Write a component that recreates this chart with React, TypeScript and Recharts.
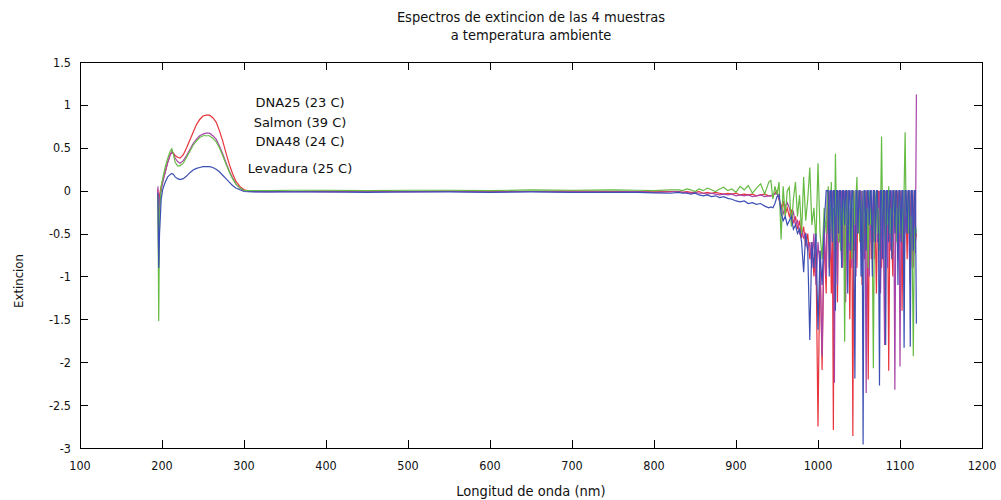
import React from 'react';
import { LineChart, Line, XAxis, YAxis, ReferenceArea } from 'recharts';

// wavelength grid (nm)
const wavelengths = [
  195, 196, 197, 199, 201, 204, 207, 210, 212, 214, 216, 219, 222, 226, 230, 234, 238, 242, 246, 250, 254, 258, 262, 266, 270, 274, 278, 282, 286, 290, 295, 300, 310,
  330, 360, 400, 450, 500, 550, 600, 650, 700, 750, 780, 800, 820,
  830, 835, 840, 845, 850, 855, 860, 865, 870, 875, 880, 885, 890, 895, 900, 905, 910, 915, 920, 925, 930, 935, 940,
  942.5, 945, 947.5, 950, 952.5, 955, 957.5, 960, 962.5, 965, 967.5, 970, 972.5, 975, 977.5, 980, 982.5, 985, 987.5, 990, 992.5, 995, 997.5, 1000, 1002.5, 1005, 1007.5, 1010,
  1011.25, 1012.5, 1013.75, 1015, 1016.25, 1017.5, 1018.75, 1020,
  1021.25, 1022.5, 1023.75, 1025, 1026.25, 1027.5, 1028.75, 1030,
  1031.25, 1032.5, 1033.75, 1035, 1036.25, 1037.5, 1038.75, 1040,
  1041.25, 1042.5, 1043.75, 1045, 1046.25, 1047.5, 1048.75, 1050,
  1051.25, 1052.5, 1053.75, 1055, 1056.25, 1057.5, 1058.75, 1060,
  1061.25, 1062.5, 1063.75, 1065, 1066.25, 1067.5, 1068.75, 1070,
  1071.25, 1072.5, 1073.75, 1075, 1076.25, 1077.5, 1078.75, 1080,
  1081.25, 1082.5, 1083.75, 1085, 1086.25, 1087.5, 1088.75, 1090,
  1091.25, 1092.5, 1093.75, 1095, 1096.25, 1097.5, 1098.75, 1100,
  1101.25, 1102.5, 1103.75, 1105, 1106.25, 1107.5, 1108.75, 1110,
  1111.25, 1112.5, 1113.75, 1115, 1116.25, 1117.5, 1118.75, 1120,
];

// DNA25 (23 C)
const dna25 = [
  0.02, -0.3, -0.05, 0.05, 0.12, 0.22, 0.33, 0.42, 0.45, 0.44, 0.41, 0.39, 0.38, 0.42, 0.5, 0.59, 0.68, 0.77, 0.83, 0.87, 0.88, 0.88, 0.85, 0.8, 0.7, 0.58, 0.44, 0.31, 0.2, 0.11, 0.05, 0.01, -0.01,
  -0.01, -0.01, -0.005, -0.01, -0.01, -0.005, -0.01, -0.01, -0.005, -0.01, -0.01, -0.015, -0.01,
  -0.01, -0.02, -0.01, -0.02, -0.02, -0.01, -0.03, -0.02, -0.03, -0.02, -0.03, -0.04, -0.03, -0.04, -0.03, -0.05, -0.04, -0.05, -0.04, -0.06, -0.05, -0.04, -0.06,
  -0.06, -0.05, -0.03, 0.0, -0.1, -0.2, -0.12, -0.28, -0.2, -0.3, -0.22, -0.38, -0.3, -0.45, -0.35, -0.55, -0.42, -0.65, -0.5, -0.8, -0.6, -1.0, -0.7, -2.75, -0.7, -2.09, -0.5, -1.2,
  -0.3, 0, -0.9, -0.5, -1.2, -0.4, -2.79, 0,
  -0.5, -0.2, -1.3, 0, -0.6, -0.3, -0.8, -0.2,
  0, -1.0, -0.4, -0.6, 0, -0.3, -1.5, -0.5,
  -0.2, -2.86, 0, -0.7, -0.4, -0.9, 0, -0.35,
  -0.6, 0, -1.1, -0.5, -0.3, -0.8, 0, -0.4,
  -2.2, -0.3, 0, -0.8, -0.4, -0.6, 0, -0.5,
  -1.2, -0.3, 0, -0.6, -0.2, -0.9, -0.5, 0,
  -0.4, -0.7, 0, -0.3, -2.1, -0.5, 0, -0.6,
  -1.0, -0.3, 0, -0.5, -0.2, 0, -0.7, -0.3,
  0, -1.4, -0.4, -0.6, 0, -0.3, -0.8, 0,
  -0.5, -0.3, 0, -0.9, -0.4, 0, -0.6, -0.5,
];

// Salmon (39 C)
const salmon = [
  0.05, -0.85, -0.1, 0.0, 0.1, 0.22, 0.33, 0.42, 0.45, 0.43, 0.38, 0.34, 0.32, 0.35, 0.41, 0.48, 0.55, 0.6, 0.64, 0.66, 0.67, 0.67, 0.64, 0.6, 0.52, 0.43, 0.33, 0.23, 0.15, 0.08, 0.03, 0.0, -0.01,
  -0.015, -0.01, -0.015, -0.01, -0.015, -0.01, -0.015, -0.01, -0.015, -0.015, -0.01, -0.02, -0.015,
  -0.01, -0.02, -0.02, -0.03, -0.02, -0.03, -0.03, -0.04, -0.03, -0.04, -0.05, -0.04, -0.05, -0.04, -0.06, -0.05, -0.06, -0.05, -0.07, -0.06, -0.05, -0.07, -0.06,
  -0.06, -0.05, -0.04, -0.03, -0.1, -0.2, -0.27, -0.18, -0.14, -0.2, -0.3, -0.25, -0.4, -0.35, -0.5, -0.45, -0.55, -0.5, -0.7, -0.6, -0.9, -0.5, -1.1, -0.6, -0.9, -1.93, -0.4, -1.0,
  0, -0.5, 0, -0.8, -0.3, 0, -0.6, -2.24,
  0, -0.4, -1.1, 0, -0.6, -0.3, 0, -0.9,
  -0.5, 0, -1.3, -0.5, 0, -0.4, -0.7, 0,
  -0.9, -0.4, 0, -0.6, -1.0, 0, -0.5, -0.3,
  0, -0.7, -0.4, 0, -0.8, -0.5, -2.36, 0,
  -0.5, -1.0, 0, -0.6, -0.3, 0, -0.8, -0.4,
  0, -0.6, -0.3, 0, -1.2, -0.5, 0, -0.8,
  -1.8, 0, -0.5, -0.9, 0, -0.4, -0.7, 0,
  -0.6, -0.3, -2.32, 0, -0.4, -0.8, 0, -2.05,
  -0.3, 0, -0.7, -1.1, 0, -0.5, -0.3, 0,
  -0.7, -1.1, 0, -0.5, -0.9, 0, -0.73, 1.12,
];

// DNA48 (24 C)
const dna48 = [
  -0.05, -1.52, -0.3, 0.05, 0.15, 0.28, 0.38, 0.46, 0.49, 0.42, 0.33, 0.29, 0.29, 0.32, 0.39, 0.46, 0.53, 0.58, 0.62, 0.64, 0.64, 0.64, 0.61, 0.57, 0.5, 0.41, 0.31, 0.22, 0.14, 0.08, 0.03, 0.0, 0.0,
  0.0, 0.005, 0.005, 0.0, 0.005, 0.005, 0.0, 0.01, 0.005, 0.01, 0.005, 0.0, 0.01,
  0.01, 0.0, 0.02, 0.01, -0.01, 0.02, 0.0, 0.03, 0.01, -0.01, 0.02, 0.04, 0.0, 0.02, -0.02, 0.05, 0.01, 0.06, -0.03, 0.03, 0.08, -0.04, 0.1,
  0.12, -0.1, 0.05, -0.05, 0.1, -0.57, 0.05, -0.3, 0.0, 0.04, -0.42, -0.1, 0.1, -0.3, -0.05, -0.5, 0.16, -0.35, -0.1, 0.27, -0.4, -0.2, -0.6, 0.32, -0.5, -0.8, -0.2, -0.5,
  -0.2, 0.05, -0.6, -0.3, 0.1, -0.5, -0.2, -0.7,
  0.43, -0.3, -0.1, -0.6, 0, -0.7, -0.2, -0.4,
  -0.1, -1.76, -0.3, 0, -0.5, -0.2, -0.6, -0.1,
  -0.8, -0.3, 0, -0.4, -0.1, 0.16, -0.5, -0.2,
  -0.6, -0.1, -0.4, -0.7, 0, -0.3, -0.5, -0.2,
  -0.9, 0, -0.4, -0.2, -0.6, -2.07, -0.4, -0.1,
  0, -0.5, -0.2, -0.7, -0.3, 0.63, -0.3, -0.1,
  0, -0.6, -0.2, -0.4, 0.05, -0.5, -0.2, -0.7,
  -0.3, 0, -0.4, -0.1, -0.6, -0.2, -0.5, -0.1,
  -0.5, -0.2, -0.6, 0, 0.68, -0.3, -0.1, -0.5,
  0, -0.6, -0.3, -0.8, -1.93, -0.5, -0.4, -0.5,
];

// Levadura (25 C)
const levadura = [
  -0.02, -0.9, -0.5, -0.1, 0.02, 0.1, 0.16, 0.19, 0.2, 0.19, 0.16, 0.14, 0.13, 0.14, 0.17, 0.21, 0.24, 0.26, 0.27, 0.28, 0.28, 0.28, 0.27, 0.25, 0.22, 0.18, 0.14, 0.1, 0.06, 0.03, 0.01, -0.01, -0.015,
  -0.015, -0.015, -0.015, -0.02, -0.015, -0.015, -0.02, -0.015, -0.02, -0.02, -0.02, -0.025, -0.03,
  -0.02, -0.03, -0.03, -0.04, -0.03, -0.05, -0.06, -0.05, -0.07, -0.06, -0.08, -0.07, -0.09, -0.1, -0.12, -0.13, -0.12, -0.15, -0.14, -0.16, -0.15, -0.18, -0.2,
  -0.19, -0.2, -0.15, -0.07, -0.05, -0.26, -0.35, -0.3, -0.4, -0.35, -0.3, -0.45, -0.4, -0.5, -0.45, -0.6, -0.95, -0.5, -0.7, -1.74, -0.6, -0.9, -0.5, -1.62, -0.7, -1.1, -0.4, 0,
  0, 0, -1.0, 0, 0, -0.6, 0, 0,
  -1.4, 0, 0, -0.5, 0, 0, -0.9, 0,
  0, -0.4, 0, 0, -1.2, 0, 0, -0.7,
  0, 0, -0.8, -2.19, 0, 0, -0.5, 0,
  0, -1.0, 0, -2.96, 0, 0, -0.7, 0,
  0, -0.4, 0, 0, -1.0, 0, 0, -0.6,
  0, 0, -0.5, -2.27, 0, 0, -0.8, 0,
  0, -1.8, 0, 0, -0.6, 0, 0, -0.8,
  0, 0, -0.5, 0, 0, -1.1, 0, 0,
  -0.6, 0, 0, -1.83, 0, 0, -0.5, 0,
  0, -1.82, 0, 0, -0.7, 0, 0, -1.55,
];

const xTicks = [100, 200, 300, 400, 500, 600, 700, 800, 900, 1000, 1100, 1200];
const yTicks = [-3, -2.5, -2, -1.5, -1, -0.5, 0, 0.5, 1, 1.5];

const sampleLabels = [
  { text: 'DNA25 (23 C)', y: 103 },
  { text: 'Salmon (39 C)', y: 123 },
  { text: 'DNA48 (24 C)', y: 142 },
  { text: 'Levadura (25 C)', y: 169 },
];

const data = wavelengths.map((nm, i) => ({
  nm,
  dna25: dna25[i],
  salmon: salmon[i],
  dna48: dna48[i],
  levadura: levadura[i],
}));

const PLOT_TOP = 62;
const PLOT_RIGHT = 982;
const TICK_LEN = 8;
const condensed = '"DejaVu Sans Condensed", "DejaVu Sans", sans-serif';

// gnuplot style: ticks point inwards and are mirrored on the opposite border
const XTick = (props: any) => {
  const { x, y, payload } = props;
  const px = Math.round(x) + 0.5;
  return (
    <g>
      <line x1={px} x2={px} y1={y} y2={y - TICK_LEN} stroke="#000" />
      <line x1={px} x2={px} y1={PLOT_TOP} y2={PLOT_TOP + TICK_LEN} stroke="#000" />
      <text x={x} y={y + 22} textAnchor="middle" fontFamily={condensed} fontSize={12.5} fill="#111">
        {payload.value}
      </text>
    </g>
  );
};

const YTick = (props: any) => {
  const { x, y, payload } = props;
  const py = Math.round(y) + 0.5;
  return (
    <g>
      <line x1={x} x2={x + TICK_LEN} y1={py} y2={py} stroke="#000" />
      <line x1={PLOT_RIGHT - TICK_LEN} x2={PLOT_RIGHT} y1={py} y2={py} stroke="#000" />
      <text x={x - 9} y={y + 4.5} textAnchor="end" fontFamily={condensed} fontSize={12.5} fill="#111">
        {payload.value}
      </text>
    </g>
  );
};

const App: React.FC = () => {
  return (
    <div style={{ position: 'absolute', left: 0, top: 0, width: 1001, height: 500, background: '#fff' }}>
      <LineChart width={1001} height={500} data={data} margin={{ top: 62, right: 19, bottom: 22, left: 20 }}>
        <XAxis
          dataKey="nm"
          type="number"
          domain={[100, 1200]}
          ticks={xTicks}
          interval={0}
          height={30}
          tick={<XTick />}
          tickLine={false}
          axisLine={false}
          tickSize={0}
          tickMargin={0}
        />
        <YAxis
          type="number"
          domain={[-3, 1.5]}
          ticks={yTicks}
          interval={0}
          width={60}
          tick={<YTick />}
          tickLine={false}
          axisLine={false}
          tickSize={0}
          tickMargin={0}
        />
        <ReferenceArea x1={100} x2={1200} y1={-3} y2={1.5} fill="none" fillOpacity={0} stroke="#000" strokeWidth={1} shapeRendering="crispEdges" />
        <Line type="linear" dataKey="dna25" stroke="#e8343c" strokeWidth={1.2} dot={false} isAnimationActive={false} />
        <Line type="linear" dataKey="salmon" stroke="#a844a8" strokeWidth={1.2} dot={false} isAnimationActive={false} />
        <Line type="linear" dataKey="dna48" stroke="#66bb44" strokeWidth={1.2} dot={false} isAnimationActive={false} />
        <Line type="linear" dataKey="levadura" stroke="#3c50b4" strokeWidth={1.2} dot={false} isAnimationActive={false} />
      </LineChart>

      <div style={{ position: 'absolute', left: 80, width: 902, top: 8, textAlign: 'center', fontFamily: condensed, fontSize: 14.5, lineHeight: '18px', color: '#111' }}>
        Espectros de extincion de las 4 muestras
        <br />
        a temperatura ambiente
      </div>
      <div style={{ position: 'absolute', left: 80, width: 902, top: 483, textAlign: 'center', fontFamily: condensed, fontSize: 14.5, color: '#111' }}>
        Longitud de onda (nm)
      </div>
      <div style={{ position: 'absolute', left: 18, top: 281, transform: 'translate(-50%, -50%) rotate(-90deg)', fontFamily: condensed, fontSize: 13, color: '#111', whiteSpace: 'nowrap' }}>
        Extincion
      </div>
      {sampleLabels.map((l) => (
        <div key={l.text} style={{ position: 'absolute', left: 200, width: 200, top: l.y - 9, textAlign: 'center', fontFamily: '"DejaVu Sans", sans-serif', fontSize: 13, lineHeight: '18px', color: '#111' }}>
          {l.text}
        </div>
      ))}
    </div>
  );
};

export default App;
